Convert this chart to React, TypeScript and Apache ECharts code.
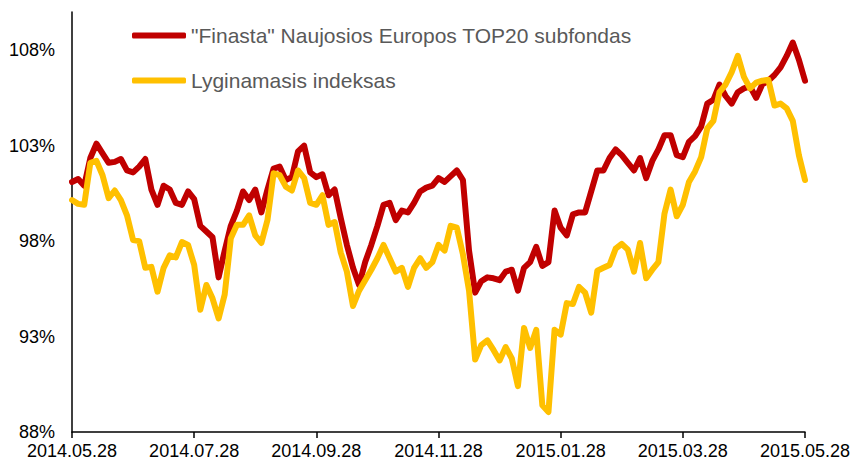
import React, { useEffect, useRef } from "react";
import * as echarts from "echarts";

const tickLabels = [
  "2014.05.28",
  "2014.07.28",
  "2014.09.28",
  "2014.11.28",
  "2015.01.28",
  "2015.03.28",
  "2015.05.28",
];

const seriesNames = ['"Finasta" Naujosios Europos TOP20 subfondas', "Lyginamasis indeksas"];

const fundValues = [
  101.1, 101.25, 100.9, 102.35, 103.1, 102.6, 102.1, 102.15, 102.3, 101.7,
  101.6, 101.9, 102.3, 100.7, 99.9, 100.9, 100.7, 100.0, 99.9, 100.6,
  100.2, 98.8, 98.5, 98.2, 96.1, 97.5, 98.8, 99.6, 100.6, 100.15,
  100.7, 99.5, 100.7, 101.8, 101.9, 101.2, 101.35, 102.7, 103.0, 101.6,
  101.35, 101.5, 100.4, 100.7, 99.2, 97.8, 96.6, 95.7, 96.9, 97.8,
  98.8, 99.9, 100.0, 99.1, 99.6, 99.5, 100.0, 100.6, 100.8, 100.9,
  101.3, 101.1, 101.4, 101.7, 101.2, 97.5, 95.3, 95.9, 96.1, 96.05,
  95.95, 96.4, 96.5, 95.4, 96.6, 96.9, 97.7, 96.7, 96.9, 99.6,
  98.7, 98.3, 99.4, 99.5, 99.5, 100.6, 101.7, 101.7, 102.35, 102.8,
  102.5, 102.1, 101.7, 102.35, 101.3, 102.2, 102.8, 103.55, 103.55, 102.5,
  102.4, 103.2, 103.5, 104.0, 105.2, 105.4, 106.2, 105.6, 105.2, 105.8,
  106.0, 106.1, 105.5, 106.2, 106.4, 106.7, 107.1, 107.7, 108.4, 107.5,
  106.4,
];

const indexValues = [
  100.15, 99.95, 99.9, 102.1, 102.2, 101.45, 100.25, 100.65, 100.15, 99.35,
  98.05, 98.0, 96.6, 96.65, 95.35, 96.6, 97.25, 97.15, 97.95, 97.8,
  96.75, 94.4, 95.7, 95.0, 93.95, 95.2, 98.15, 98.85, 98.85, 99.35,
  98.3, 97.9, 99.1, 101.55, 101.45, 100.85, 100.65, 101.7, 101.3, 100.0,
  99.9, 100.4, 98.85, 99.0, 97.4, 96.4, 94.6, 95.4, 95.95, 96.5,
  97.1, 97.8, 97.1, 96.4, 96.6, 95.6, 96.6, 97.1, 96.6, 96.9,
  97.8, 97.5, 98.8, 98.7, 97.3, 95.4, 91.8, 92.55, 92.8, 92.3,
  91.75, 92.45, 91.85, 90.4, 93.45, 92.4, 93.35, 89.4, 89.05, 93.35,
  93.1, 94.75, 94.7, 95.6, 95.3, 94.25, 96.45, 96.6, 96.75, 97.6,
  97.85, 97.55, 96.4, 97.9, 96.05, 96.5, 96.9, 99.45, 100.7, 99.3,
  99.9, 101.1, 101.65, 102.4, 103.9, 104.3, 105.8, 106.2, 106.85, 107.7,
  106.6, 106.0, 106.3, 106.4, 106.45, 105.1, 105.2, 104.95, 104.3, 102.5,
  101.2,
];

const STEP = 20;
const categories = fundValues.map((_, i) =>
  i % STEP === 0 ? tickLabels[i / STEP] : String(i)
);

const FONT = "'Liberation Sans', Arial, sans-serif";

export default function App() {
  const ref = useRef<HTMLDivElement>(null);
  useEffect(() => {
    if (!ref.current) return;
    const chart = echarts.init(ref.current, undefined, { renderer: "svg" });
    chart.setOption({
      animation: false,
      backgroundColor: "#ffffff",
      grid: {
        left: 72,
        right: 47,
        top: 12,
        bottom: 31,
        containLabel: false,
        outerBoundsMode: "none",
      },
      legend: {
        show: true,
        orient: "vertical",
        left: 127,
        top: 20,
        itemWidth: 54,
        itemHeight: 6,
        itemGap: 24,
        icon: "roundRect",
        textStyle: { fontFamily: FONT, fontSize: 21, color: "#595959" },
        data: seriesNames,
      },
      xAxis: {
        type: "category",
        data: categories,
        boundaryGap: false,
        axisLine: { show: true, lineStyle: { color: "#000", width: 1.5 } },
        axisTick: {
          show: true,
          inside: false,
          length: 6,
          interval: (i: number) => i % STEP === 0,
          lineStyle: { color: "#000", width: 1.5 },
        },
        axisLabel: {
          interval: (i: number) => i % STEP === 0,
          fontFamily: FONT,
          fontSize: 18,
          color: "#000",
          margin: 10,
        },
        splitLine: { show: false },
      },
      yAxis: {
        type: "value",
        min: 88,
        max: 110,
        interval: 5,
        axisLine: { show: true, lineStyle: { color: "#000", width: 1.5 } },
        axisTick: { show: false },
        splitLine: { show: false },
        axisLabel: {
          showMaxLabel: false,
          fontFamily: FONT,
          fontSize: 18,
          color: "#000",
          margin: 17,
          formatter: (v: number) => `${v}%`,
        },
      },
      series: [
        {
          name: seriesNames[0],
          type: "line",
          data: fundValues,
          symbol: "none",
          color: "#C00000",
          lineStyle: { color: "#C00000", width: 6, cap: "round", join: "round" },
          z: 2,
        },
        {
          name: seriesNames[1],
          type: "line",
          data: indexValues,
          symbol: "none",
          color: "#FFC000",
          lineStyle: { color: "#FFC000", width: 6, cap: "round", join: "round" },
          z: 3,
        },
      ],
    });
    return () => chart.dispose();
  }, []);
  return (
    <div
      ref={ref}
      style={{ position: "fixed", left: 0, top: 0, width: 852, height: 463, background: "#fff" }}
    />
  );
}
